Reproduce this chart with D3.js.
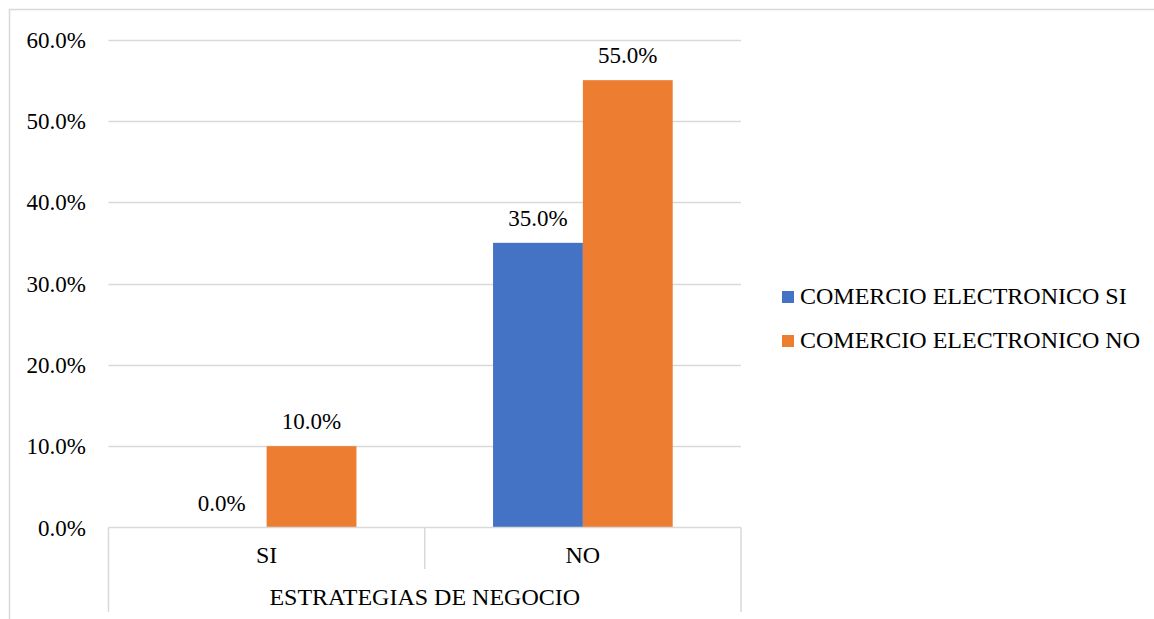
<!DOCTYPE html>
<html><head><meta charset="utf-8">
<script src="https://cdn.jsdelivr.net/npm/d3@7"></script>
<style>body{margin:0;background:#fff}svg{display:block}</style>
</head><body>
<svg id="c" width="1154" height="619"></svg>
<script>
const categories = ["SI", "NO"];
const seriesNames = ["COMERCIO ELECTRONICO SI", "COMERCIO ELECTRONICO NO"];
const seriesSI = [0.0, 0.35];
const seriesNO = [0.10, 0.55];
const yTicks = [0, 0.1, 0.2, 0.3, 0.4, 0.5, 0.6];
const axisTitle = "ESTRATEGIAS DE NEGOCIO";
const colors = ["#4472C4", "#ED7D31"];

const svg = d3.select("#c").attr("font-family", "'Liberation Serif', 'Times New Roman', Times, serif").attr("fill", "#000");
const fsNum = 23, fsTxt = 24;
const plotL = 108.5, plotR = 741, plotT = 39.5, plotB = 527.5;

svg.append("rect").attr("x", 9.5).attr("y", 9.5).attr("width", 1160).attr("height", 640)
  .attr("fill", "none").attr("stroke", "#d9d9d9").attr("stroke-width", 1.5);

const y = d3.scaleLinear().domain([0, 0.6]).range([plotB, plotT]);
const x0 = d3.scaleBand().domain(categories).range([plotL, plotR]).padding(0);
const bw = x0.bandwidth();
const x1 = d3.scaleBand().domain([0, 1]).range([bw * 0.216, bw * 0.784]).padding(0);

// gridlines
svg.append("g").selectAll("line").data(yTicks.filter(d => d > 0)).join("line")
  .attr("x1", plotL).attr("x2", plotR).attr("y1", d => Math.round(y(d)) + 0.5).attr("y2", d => Math.round(y(d)) + 0.5)
  .attr("stroke", "#d9d9d9").attr("stroke-width", 1.5);

// y labels
svg.append("g").selectAll("text").data(yTicks).join("text")
  .attr("x", 86).attr("y", d => y(d)).attr("dy", "0.35em").attr("text-anchor", "end")
  .attr("font-size", fsNum).text(d => d3.format(".1%")(d));

// bars
const data = categories.map((c, i) => ({c, vals: [seriesSI[i], seriesNO[i]]}));
const g = svg.append("g").selectAll("g").data(data).join("g")
  .attr("transform", d => `translate(${x0(d.c)},0)`);
g.selectAll("rect").data(d => d.vals.map((v, k) => ({v, k}))).join("rect")
  .attr("x", d => x1(d.k)).attr("width", x1.bandwidth())
  .attr("y", d => y(d.v)).attr("height", d => y(0) - y(d.v)).attr("fill", d => colors[d.k]);
g.selectAll("text").data(d => d.vals.map((v, k) => ({v, k}))).join("text")
  .attr("x", d => x1(d.k) + x1.bandwidth() / 2).attr("y", d => y(d.v) - 17)
  .attr("text-anchor", "middle").attr("font-size", fsNum).text(d => d3.format(".1%")(d.v));

// x axis
svg.append("line").attr("x1", plotL).attr("x2", plotR).attr("y1", plotB).attr("y2", plotB)
  .attr("stroke", "#d9d9d9").attr("stroke-width", 1.5);
const bounds = [plotL, ...categories.map(c => x0(c) + bw)];
svg.append("g").selectAll("line").data(bounds).join("line")
  .attr("x1", d => d).attr("x2", d => d).attr("y1", plotB)
  .attr("y2", (d, i) => (i === 0 || i === bounds.length - 1) ? 612 : 569)
  .attr("stroke", "#d9d9d9").attr("stroke-width", 1.5);
svg.append("g").selectAll("text").data(categories).join("text")
  .attr("x", d => x0(d) + bw / 2).attr("y", 563).attr("text-anchor", "middle")
  .attr("font-size", fsTxt).text(d => d);
svg.append("text").attr("x", (plotL + plotR) / 2).attr("y", 605).attr("text-anchor", "middle")
  .attr("font-size", fsTxt).text(axisTitle);

// legend
const lg = svg.append("g").selectAll("g").data(seriesNames).join("g")
  .attr("transform", (d, i) => `translate(782,${291 + i * 44})`);
lg.append("rect").attr("width", 12).attr("height", 12).attr("fill", (d, i) => colors[i]);
lg.append("text").attr("x", 18).attr("y", 12.5).attr("font-size", fsTxt).text(d => d);
</script>
</body></html>
